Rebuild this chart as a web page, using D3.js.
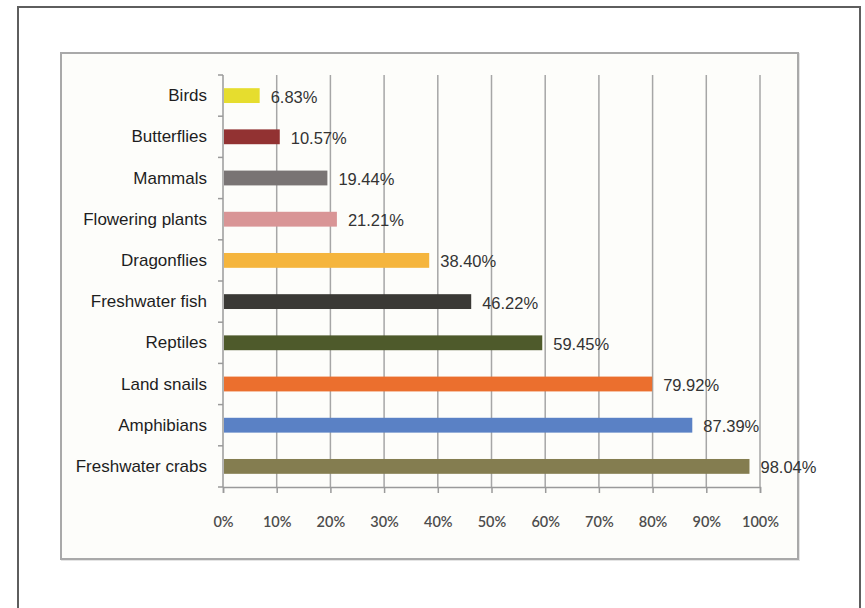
<!DOCTYPE html>
<html>
<head>
<meta charset="utf-8">
<script src="https://cdn.jsdelivr.net/npm/d3@7"></script>
<style>
  html, body { margin: 0; padding: 0; background: #ffffff; }
  svg { display: block; }
</style>
</head>
<body>
<svg id="chart" width="865" height="608"></svg>
<script>
// ---- data ----
const categories = ["Birds", "Butterflies", "Mammals", "Flowering plants", "Dragonflies",
  "Freshwater fish", "Reptiles", "Land snails", "Amphibians", "Freshwater crabs"];
const values = [6.83, 10.57, 19.44, 21.21, 38.40, 46.22, 59.45, 79.92, 87.39, 98.04];
const barColors = ["#e6dd2e", "#923232", "#797474", "#d99596", "#f5b53d",
  "#3a3935", "#4e5a2b", "#eb6f2e", "#5a81c5", "#847d50"];
const tickValues = [0, 10, 20, 30, 40, 50, 60, 70, 80, 90, 100];
const tickLabels = ["0%", "10%", "20%", "30%", "40%", "50%", "60%", "70%", "80%", "90%", "100%"];

// ---- layout ----
const svg = d3.select("#chart");
const plot = { left: 223, right: 760, top: 75, bottom: 487 };

// outer frame
svg.append("rect").attr("x", 18).attr("y", 7).attr("width", 842).attr("height", 640)
  .attr("fill", "#ffffff").attr("stroke", "#5e5e5e").attr("stroke-width", 2);

// inner chart box with subtle shadow
svg.append("rect").attr("x", 62).attr("y", 54).attr("width", 737).attr("height", 506)
  .attr("fill", "none").attr("stroke", "#e4e4e4").attr("stroke-width", 2);
svg.append("rect").attr("x", 61).attr("y", 53).attr("width", 737).attr("height", 506)
  .attr("fill", "#fdfdfa").attr("stroke", "#a9a9a9").attr("stroke-width", 2);

const x = d3.scaleLinear().domain([0, 100]).range([plot.left, plot.right]);
const y = d3.scaleBand().domain(categories).range([plot.top, plot.bottom]).paddingInner(0.64).paddingOuter(0.32);

// gridlines
svg.append("g").selectAll("line").data(tickValues.slice(1)).join("line")
  .attr("x1", d => x(d)).attr("x2", d => x(d))
  .attr("y1", plot.top).attr("y2", plot.bottom)
  .attr("stroke", "#a6a6a6").attr("stroke-width", 1.5);

// x axis
const xAxis = d3.axisBottom(x).tickValues(tickValues)
  .tickFormat((d, i) => tickLabels[i]).tickSize(6).tickPadding(24);
const gx = svg.append("g").attr("transform", `translate(0,${plot.bottom})`).call(xAxis);
gx.select(".domain").attr("stroke", "#9a9a9a").attr("stroke-width", 1.5);
gx.selectAll(".tick line").attr("stroke", "#9a9a9a").attr("stroke-width", 1.5);
gx.selectAll(".tick text").attr("fill", "#4d4d4d")
  .style("font-family", "Lato, 'Open Sans', sans-serif").style("font-size", "14.5px").style("font-weight", "600");

// y axis (category ticks at band boundaries)
const boundaries = d3.range(categories.length + 1).map(i => plot.top + i * (plot.bottom - plot.top) / categories.length);
svg.append("line").attr("x1", plot.left).attr("x2", plot.left).attr("y1", plot.top).attr("y2", plot.bottom)
  .attr("stroke", "#9a9a9a").attr("stroke-width", 1.5);
svg.append("g").selectAll("line").data(boundaries).join("line")
  .attr("x1", plot.left - 5).attr("x2", plot.left).attr("y1", d => d).attr("y2", d => d)
  .attr("stroke", "#9a9a9a").attr("stroke-width", 1.5);

// category labels
svg.append("g").selectAll("text").data(categories).join("text")
  .attr("x", plot.left - 16).attr("y", d => y(d) + y.bandwidth() / 2)
  .attr("text-anchor", "end").attr("dominant-baseline", "central")
  .attr("fill", "#1e1e1e")
  .style("font-family", "'Liberation Sans', Arial, sans-serif").style("font-size", "17px")
  .text(d => d);

// bars
svg.append("g").selectAll("rect").data(values).join("rect")
  .attr("x", x(0) + 1)
  .attr("y", (d, i) => y(categories[i]))
  .attr("width", d => x(d) - x(0) - 1)
  .attr("height", y.bandwidth())
  .attr("fill", (d, i) => barColors[i]);

// value labels
svg.append("g").selectAll("text").data(values).join("text")
  .attr("x", d => x(d) + 11)
  .attr("y", (d, i) => y(categories[i]) + y.bandwidth() / 2 + 1)
  .attr("dominant-baseline", "central")
  .attr("fill", "#333333")
  .style("font-family", "'Liberation Sans', Arial, sans-serif").style("font-size", "16.5px")
  .text(d => d.toFixed(2) + "%");
</script>
</body>
</html>
